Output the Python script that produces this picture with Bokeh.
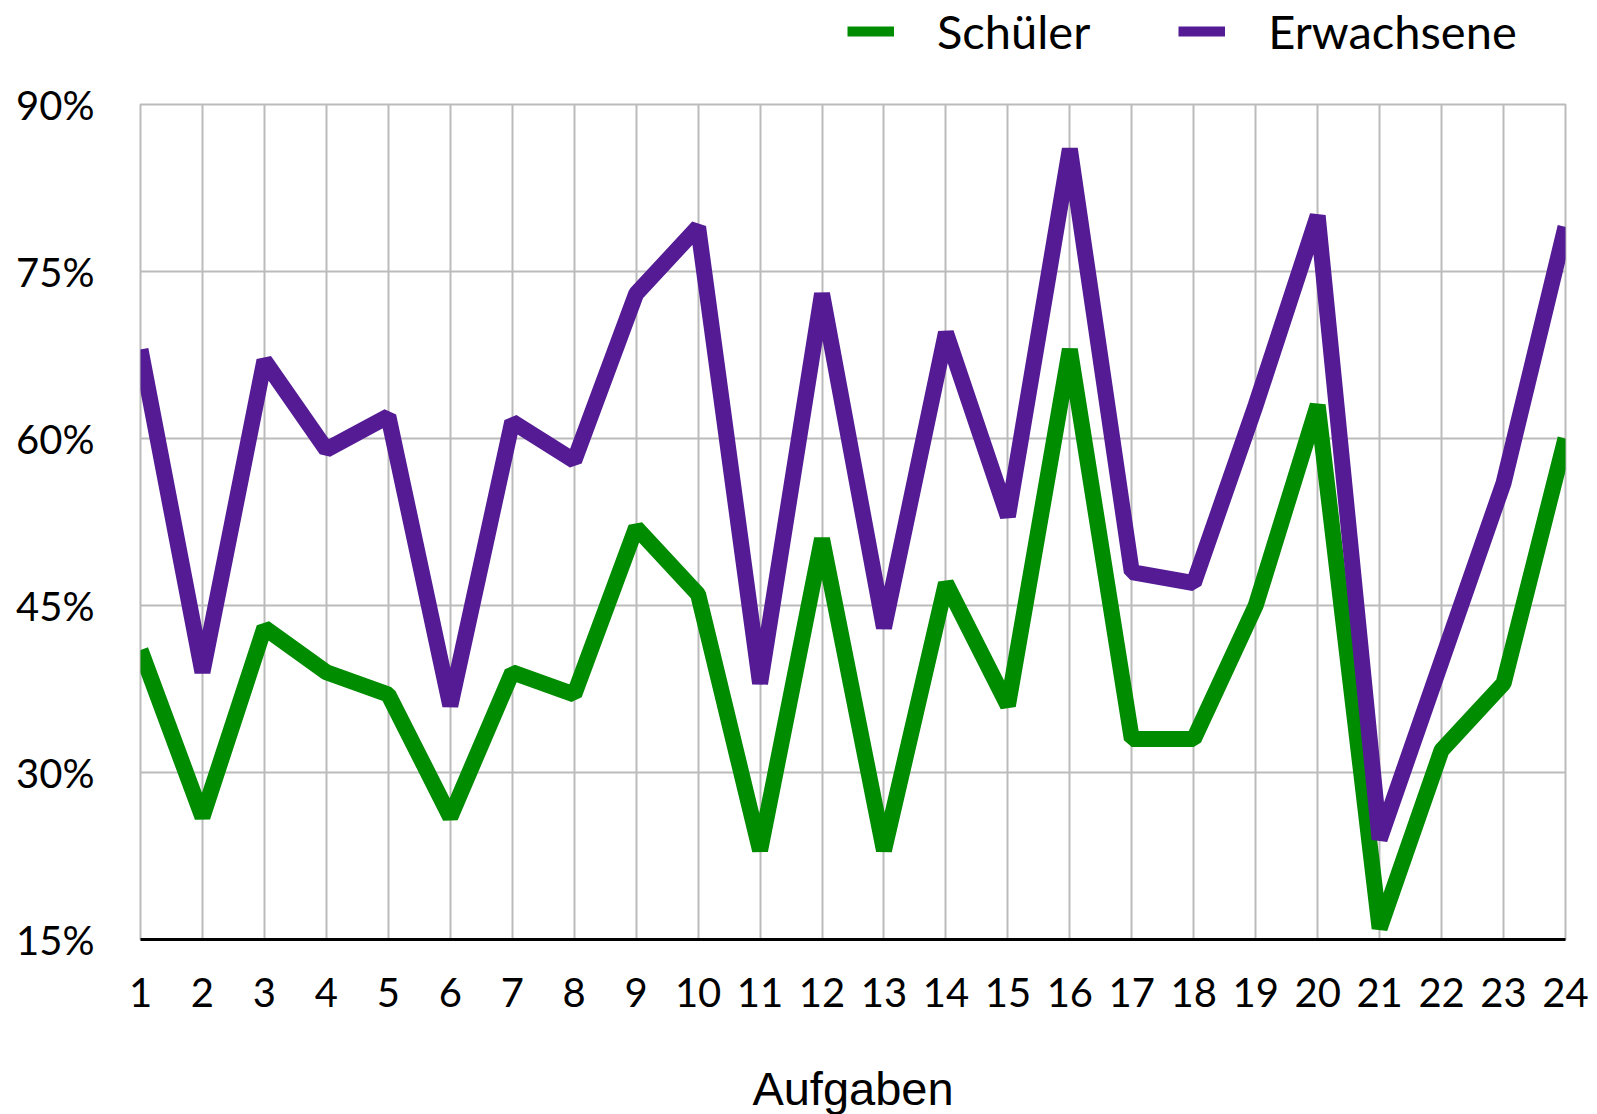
from bokeh.plotting import figure
from bokeh.models import Range1d, FixedTicker, Legend, LegendItem
from bokeh.layouts import column
from bokeh.embed import file_html
from bokeh.resources import INLINE

aufgaben = list(range(1, 25))
schueler = [41, 26, 43, 39, 37, 26, 39, 37, 52, 46, 23, 51, 23, 47, 36, 68, 33, 33, 45, 63, 16, 32, 38, 60]
erwachsene = [68, 39, 67, 59, 62, 36, 61.5, 58, 73, 79, 38, 73, 43, 69.5, 53, 86, 48, 47, 63, 80, 24, 40, 56, 79]
y_ticks = [15, 30, 45, 60, 75, 90]
y_tick_labels = ["15%", "30%", "45%", "60%", "75%", "90%"]
x_tick_labels = [str(a) for a in aufgaben]
series_names = ["Schüler", "Erwachsene"]
colors = ["#008C00", "#541B95"]

GILL = "Lato"
LW = 16

# main chart
p = figure(frame_width=1425, frame_height=835, output_backend="svg", toolbar_location=None,
           x_range=Range1d(1, 24), y_range=Range1d(15, 90))
p.min_border_left = 140
p.min_border_right = 24
p.min_border_top = 30
p.min_border_bottom = 160
p.outline_line_color = "#bbbbbb"
p.outline_line_width = 2
p.background_fill_color = "white"
p.border_fill_color = "white"

r1 = p.line(aufgaben, schueler, line_color=colors[0], line_width=LW, line_join="bevel")
r2 = p.line(aufgaben, erwachsene, line_color=colors[1], line_width=LW, line_join="bevel")

p.xaxis.ticker = FixedTicker(ticks=aufgaben)
p.xaxis.major_label_overrides = dict(zip(aufgaben, x_tick_labels))
p.yaxis.ticker = FixedTicker(ticks=y_ticks)
p.yaxis.major_label_overrides = dict(zip(y_ticks, y_tick_labels))

p.xgrid.ticker = FixedTicker(ticks=aufgaben)
p.ygrid.ticker = FixedTicker(ticks=y_ticks)
for g in (p.xgrid, p.ygrid):
    g.grid_line_color = "#bbbbbb"
    g.grid_line_width = 2

for ax in (p.xaxis, p.yaxis):
    ax.major_tick_line_color = None
    ax.minor_tick_line_color = None
    ax.major_label_text_font = GILL
    ax.major_label_text_font_size = "40px"
    ax.major_label_text_color = "black"

p.xaxis.axis_line_color = "black"
p.xaxis.axis_line_width = 3
p.yaxis.axis_line_color = None
p.yaxis.major_label_standoff = 40
p.xaxis.major_label_standoff = 32
p.xaxis.axis_label = "Aufgaben"
p.xaxis.axis_label_text_font = "Liberation Sans"
p.xaxis.axis_label_text_font_size = "47px"
p.xaxis.axis_label_text_font_style = "normal"
p.xaxis.axis_label_text_color = "black"
p.xaxis.axis_label_standoff = 52

# legend strip above the chart (its series lie outside its visible range)
lf = figure(width=1589, height=74, output_backend="svg", toolbar_location=None,
            x_axis_type=None, y_axis_type=None, min_border=0,
            x_range=Range1d(-2, -1), y_range=Range1d(-2, -1))
lf.outline_line_color = None
lf.xgrid.visible = False
lf.ygrid.visible = False
lr1 = lf.line(aufgaben, schueler, line_color=colors[0], line_width=10)
lr2 = lf.line(aufgaben, erwachsene, line_color=colors[1], line_width=10)

legend = Legend(items=[LegendItem(label=series_names[0], renderers=[lr1]),
                       LegendItem(label=series_names[1], renderers=[lr2])],
                orientation="horizontal", location=(707, 15),
                label_text_font=GILL, label_text_font_size="47px", label_text_color="black",
                glyph_width=47, glyph_height=50, label_standoff=43, spacing=88,
                padding=0, margin=0, border_line_color=None, background_fill_alpha=0)
lf.add_layout(legend, "center")

layout = column(lf, p, spacing=0)
open("out.html", "w").write(file_html(layout, INLINE))
